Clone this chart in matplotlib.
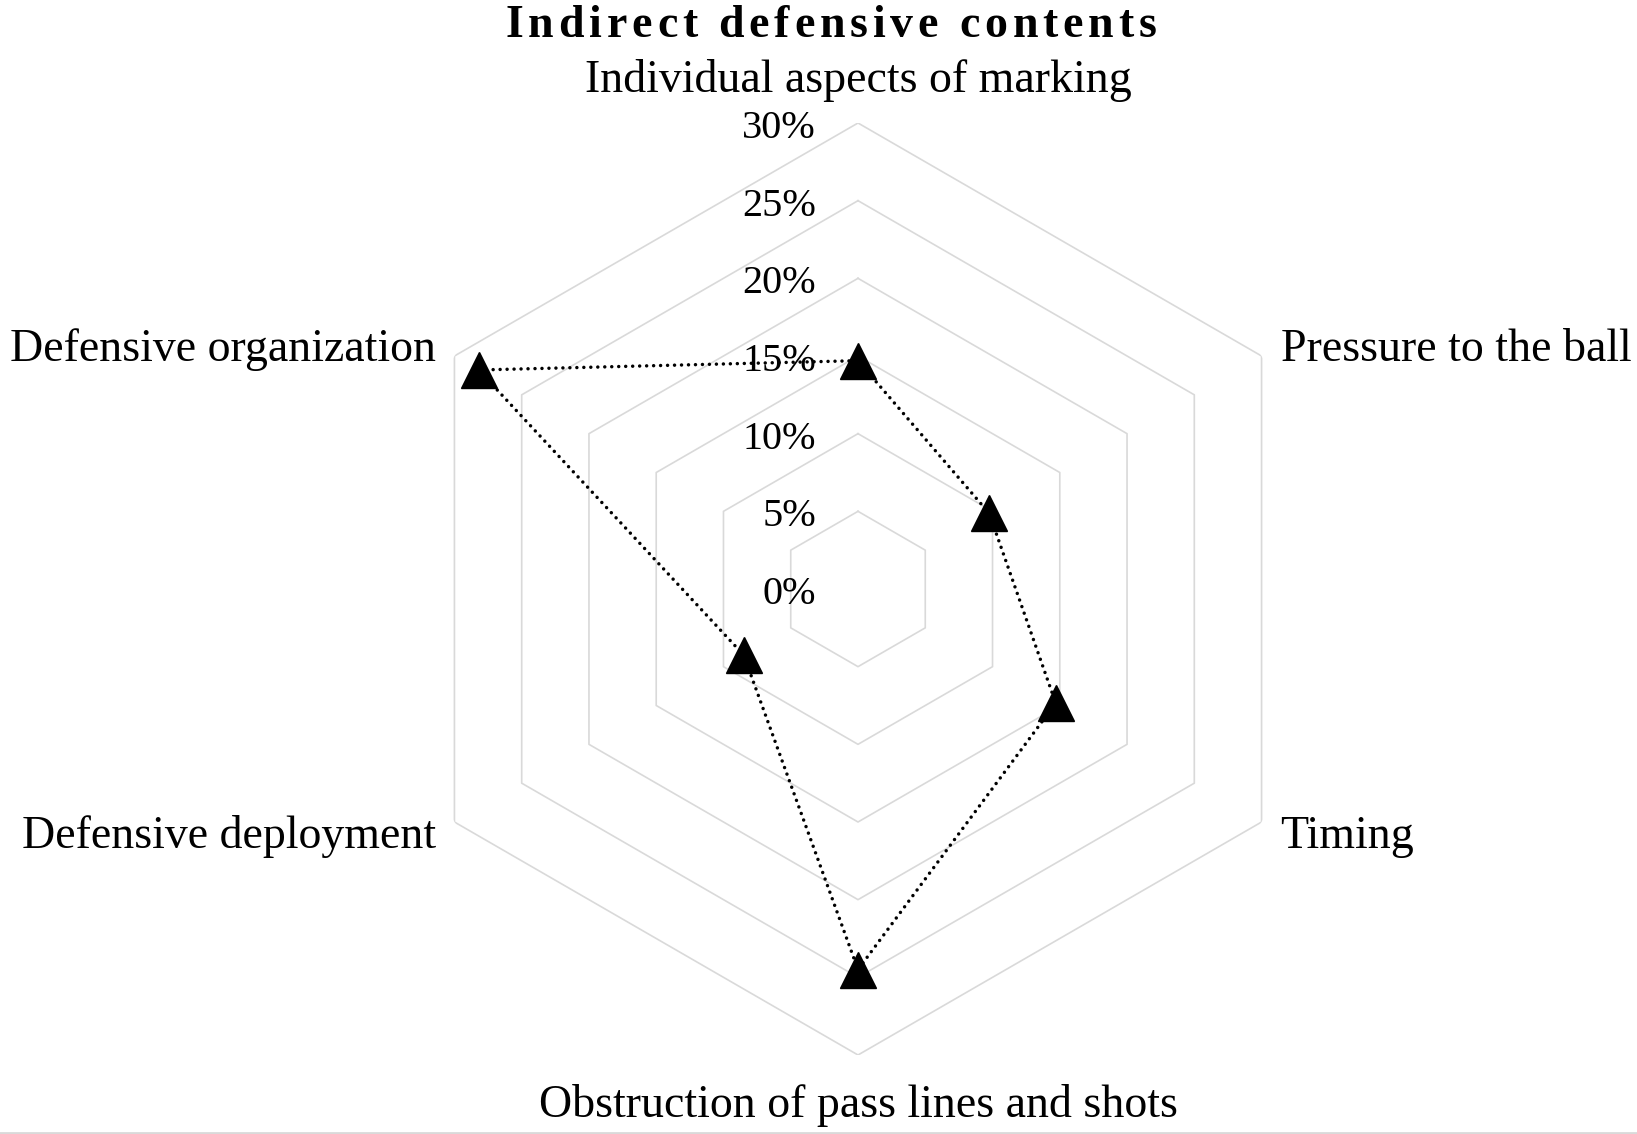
import numpy as np
import matplotlib
matplotlib.use("Agg")
import matplotlib.pyplot as plt
from matplotlib.font_manager import FontProperties, findfont, get_font

# data
categories = ["Individual aspects of marking", "Pressure to the ball", "Timing",
              "Obstruction of pass lines and shots", "Defensive deployment",
              "Defensive organization"]
values = [14.7, 9.75, 14.7, 24.5, 8.5, 28.2]   # percent
ring_levels = [5, 10, 15, 20, 25, 30]
tick_levels = [0, 5, 10, 15, 20, 25, 30]
tick_labels = ["0%", "5%", "10%", "15%", "20%", "25%", "30%"]
title = "Indirect defensive contents"

W, H, DPI = 1637, 1134, 100
SERIF = "Liberation Serif"
GRID = "#d9d9d9"

fig = plt.figure(figsize=(W / DPI, H / DPI), dpi=DPI)
fig.patch.set_facecolor("white")

# centre (858, 589) px, 30% ring at 466 px
cx, cy, R = 858, 589, 466
ax = fig.add_axes([(cx - R) / W, (H - cy - R) / H, 2 * R / W, 2 * R / H],
                  projection="polar")
ax.set_theta_zero_location("N")
ax.set_theta_direction(-1)
ax.set_ylim(0, 30)
ax.set_axis_off()

n = len(categories)
angles = np.arange(n) * 2 * np.pi / n
closed = np.append(angles, angles[0])

# hexagonal grid rings
for lv in ring_levels:
    ax.plot(closed, [lv] * (n + 1), color=GRID, lw=1.2, zorder=1)

# series
vals = np.append(values, values[0])
ax.plot(closed, vals, color="black", lw=2.5, linestyle=(0, (0.01, 2.0)),
        dash_capstyle="round", zorder=3)
ax.plot(angles, values, linestyle="none", marker="^", markersize=26,
        color="black", zorder=4, clip_on=False)

# value axis labels, left of the vertical axis
for lv, lab in zip(tick_levels, tick_labels):
    ax.annotate(lab, xy=(0, lv), xytext=(-42, -15), textcoords="offset pixels",
                ha="right", va="baseline", fontsize=29, family=SERIF,
                annotation_clip=False, zorder=2)

# category labels
offsets = [(0, 31, "center"), (19, -5, "left"), (19, -26, "left"),
           (0, -62, "center"), (-18, -26, "right"), (-18, -5, "right")]
for ang, lab, (dx, dy, ha) in zip(angles, categories, offsets):
    ax.annotate(lab, xy=(ang, 30), xytext=(dx, dy), textcoords="offset pixels",
                ha=ha, va="baseline", fontsize=33, family=SERIF,
                annotation_clip=False)

# title with letter spacing
fp = FontProperties(family=SERIF, weight="bold", size=33)
font = get_font(findfont(fp))
font.set_size(33, DPI)
hf = plt.rcParams["text.hinting_factor"]
adv = [font.load_char(ord(ch)).horiAdvance / 64 / hf for ch in title]
track = 4.8
total = sum(adv) + track * (len(title) - 1)
x = 831 - total / 2
for ch, a in zip(title, adv):
    if ch != " ":
        fig.text(x / W, 1 - 37 / H, ch, fontproperties=fp, ha="left", va="baseline")
    x += a + track

# thin grey border at the bottom edge
fig.add_artist(plt.Line2D([0, 1], [1.2 / H, 1.2 / H], color=GRID, lw=2,
                          transform=fig.transFigure))

fig.savefig("out.png", dpi=DPI, facecolor="white")
